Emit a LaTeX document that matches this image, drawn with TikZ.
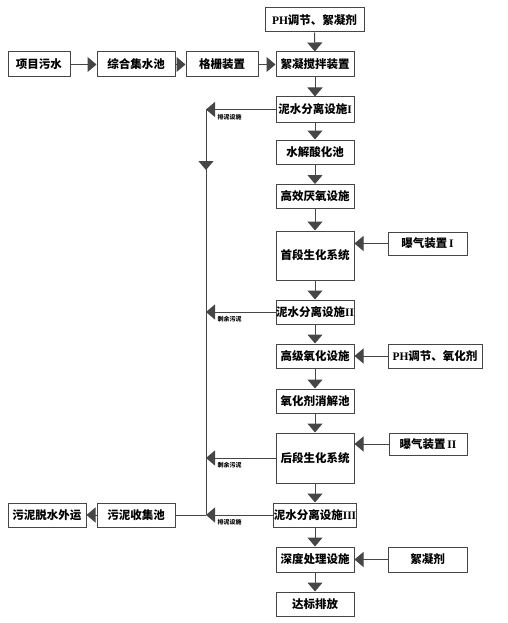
\documentclass[tikz,border=0pt]{standalone}
\usepackage{fontspec}
\newfontfamily\cjk{Noto Sans CJK SC}
\newfontfamily\romfont{Liberation Serif}
\usepackage{tikz}
\usetikzlibrary{positioning,arrows.meta}
\definecolor{lineGray}{RGB}{70,70,70}

\begin{document}
\begin{tikzpicture}[x=1pt, y=-1pt,
  box/.style={draw=lineGray, line width=1pt, fill=white, inner sep=0pt, minimum width=78pt, minimum height=24pt, font=\cjk\bfseries\fontsize{11.5}{13}\selectfont},
  flow/.style={draw=lineGray, line width=1pt, -{Triangle[length=9pt, width=15pt]}},
  pipe/.style={draw=lineGray, line width=1pt},
  tag/.style={font=\cjk\bfseries\fontsize{6}{7}\selectfont, inner sep=1pt, anchor=north west}]
\useasboundingbox (0,0) rectangle (507,623);

\node[box, minimum width=99pt] (ph1) at (314.5,20) {{\romfont PH}调节、絮凝剂};
\node[box, minimum width=62pt, minimum height=25pt] (src) at (39,64.5) {项目污水};
\node[box, minimum height=25pt] (pool) at (136,64.5) {综合集水池};
\node[box, minimum width=72pt, minimum height=25pt] (screen) at (222,64.5) {格栅装置};
\node[box, minimum height=25pt] (mix) at (315,64.5) {絮凝搅拌装置};
\node[box, minimum height=25pt] (sep1) at (315,109.5) {泥水分离设施{\romfont I}};
\node[box] (hyd) at (315,152) {水解酸化池};
\node[box] (ana) at (315,196.5) {高效厌氧设施};
\node[box, minimum height=49pt] (bio1) at (315,255.5) {首段生化系统};
\node[box, minimum width=79pt, minimum height=23pt] (aer1) at (427.5,243.5) {曝气装置{\romfont\,I}};
\node[box] (sep2) at (315,312) {泥水分离设施{\romfont II}};
\node[box] (aop) at (315,356) {高级氧化设施};
\node[box, minimum width=94pt] (ph2) at (435,356) {{\romfont PH}调节、氧化剂};
\node[box] (quench) at (315,401) {氧化剂消解池};
\node[box, minimum height=50pt] (bio2) at (315,458) {后段生化系统};
\node[box, minimum height=22pt] (aer2) at (428,444) {曝气装置{\romfont\,II}};
\node[box] (sep3) at (315,515) {泥水分离设施{\romfont III}};
\node[box] (collect) at (136,515) {污泥收集池};
\node[box] (dewater) at (47,515) {污泥脱水外运};
\node[box, minimum height=25pt] (deep) at (315,559.5) {深度处理设施};
\node[box, minimum width=79pt, minimum height=25pt] (floc) at (427.5,559.5) {絮凝剂};
\node[box] (out) at (315,604) {达标排放};

\coordinate (top) at (206,109.5);
\coordinate (down) at (206,170);
\coordinate (join) at (206,515);

\draw[flow] (ph1) -- (mix);
\draw[flow] (src) -- (pool);
\draw[flow] (pool) -- (screen);
\draw[flow] (screen) -- (mix);
\draw[flow] (mix) -- (sep1);
\draw[flow] (sep1) -- (hyd);
\draw[flow] (hyd) -- (ana);
\draw[flow] (ana) -- (bio1);
\draw[flow] (bio1) -- (sep2);
\draw[flow] (sep2) -- (aop);
\draw[flow] (aop) -- (quench);
\draw[flow] (quench) -- (bio2);
\draw[flow] (bio2) -- (sep3);
\draw[flow] (sep3) -- (deep);
\draw[flow] (deep) -- (out);

\draw[flow] (aer1.west) -- (aer1.west -| bio1.east);
\draw[flow] (ph2.west) -- (ph2.west -| aop.east);
\draw[flow] (aer2.west) -- (aer2.west -| bio2.east);
\draw[flow] (floc.west) -- (floc.west -| deep.east);

\draw[flow] (sep1.west) -- (top) node[tag, xshift=10pt, yshift=-3pt] {排泥设施};
\draw[pipe] (top) -- (join);
\draw[flow] (top) -- (down);
\draw[flow] (sep2.west) -- (sep2.west -| top) node[tag, xshift=10pt, yshift=-3pt] {剩余污泥};
\draw[flow] (bio2.west) -- (bio2.west -| top) node[tag, xshift=10pt, yshift=-3pt] {剩余污泥};
\draw[flow] (sep3.west) -- (join) node[tag, xshift=10pt, yshift=-3pt] {排泥设施};
\draw[pipe] (join) -- (collect.east);
\draw[flow] (collect) -- (dewater);
\end{tikzpicture}
\end{document}
